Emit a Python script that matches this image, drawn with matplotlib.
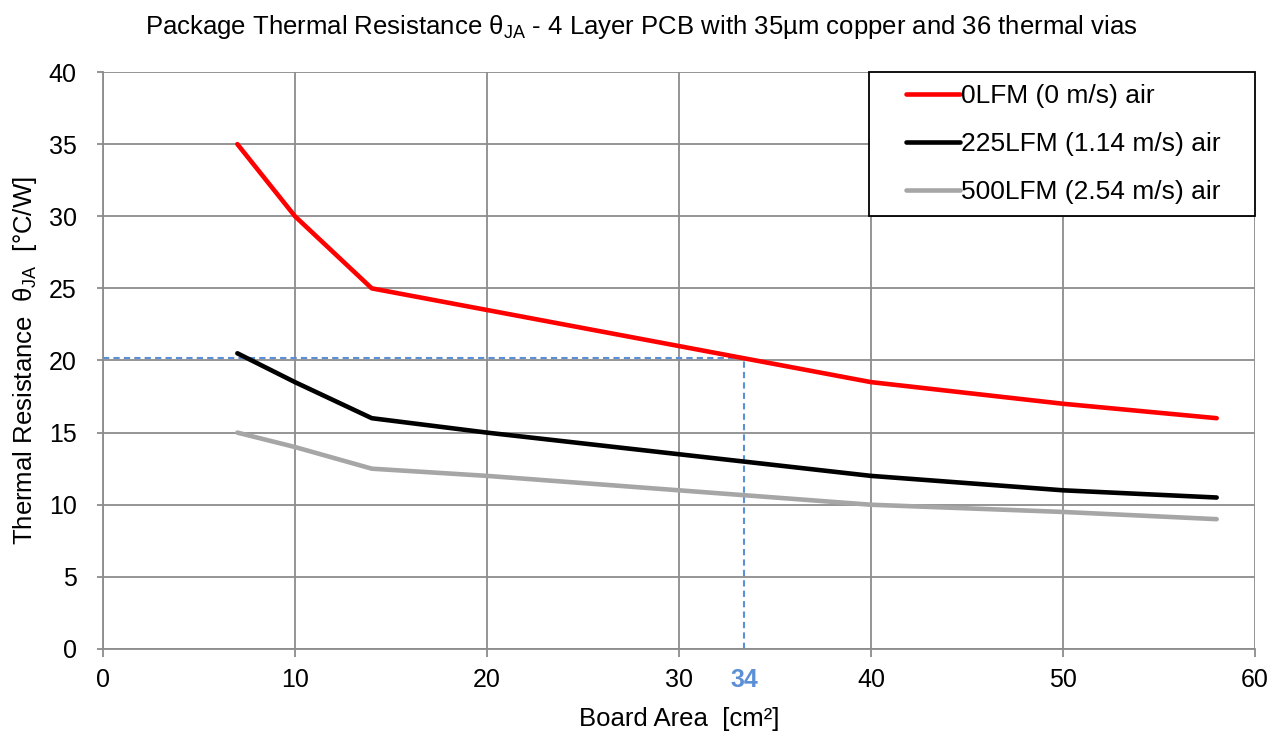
import numpy as np
import matplotlib
matplotlib.use('Agg')
import matplotlib.pyplot as plt
from matplotlib.legend_handler import HandlerLine2D

plt.rcParams['font.family'] = ['Liberation Sans', 'DejaVu Sans']
plt.rcParams['mathtext.fontset'] = 'custom'
plt.rcParams['mathtext.rm'] = 'Liberation Sans'
plt.rcParams['mathtext.it'] = 'Liberation Sans'
plt.rcParams['mathtext.default'] = 'regular'

# board area [cm^2]
area = [7, 10, 14, 20, 30, 40, 50, 58]
# theta_JA [C/W] for each airflow
r_0lfm = [35, 30, 25, 23.5, 21, 18.5, 17, 16]
r_225lfm = [20.5, 18.5, 16, 15, 13.5, 12, 11, 10.5]
r_500lfm = [15, 14, 12.5, 12, 11, 10, 9.5, 9]
labels = ['0LFM (0 m/s) air', '225LFM (1.14 m/s) air', '500LFM (2.54 m/s) air']
colors = ['#ff0000', '#000000', '#a6a6a6']

# marked operating point
mark_x = 33.4
mark_y = 20.15
mark_label = '34'
mark_color = '#5b8fd6'

fig = plt.figure(figsize=(12.82, 7.31), dpi=100)
ax = fig.add_axes([0.0803, 0.1122, 0.8987, 0.7893])

for y, lab, c in zip([r_0lfm, r_225lfm, r_500lfm], labels, colors):
    ax.plot(area, y, color=c, lw=3.3, label=lab, solid_capstyle='round', zorder=3)

# dashed guide lines to the marked point
ax.plot([0, mark_x], [mark_y, mark_y], color=mark_color, lw=1.5, ls=(0, (3, 2)), zorder=2.5)
ax.plot([mark_x, mark_x], [0, mark_y], color=mark_color, lw=1.5, ls=(0, (3, 2)), zorder=2.5)
ax.annotate(mark_label, xy=(mark_x, 0), xytext=(0, -14), textcoords='offset points',
            ha='center', va='top', fontsize=18, fontweight='bold', color=mark_color)

ax.set_xlim(0, 60)
ax.set_ylim(0, 40)
ax.set_xticks(np.arange(0, 61, 10))
ax.set_yticks(np.arange(0, 41, 5))
ax.grid(True, color='#8c8c8c', lw=1.3, zorder=1)
ax.set_axisbelow(True)
for s in ['top', 'right']:
    ax.spines[s].set_visible(False)
for s in ['left', 'bottom']:
    ax.spines[s].set_color('#8c8c8c')
    ax.spines[s].set_linewidth(1.3)
ax.tick_params(axis='x', length=5.5, width=1.3, color='#8c8c8c', pad=8, labelsize=18)
ax.tick_params(axis='y', length=4, width=1.3, color='#8c8c8c', pad=15, labelsize=18)

ax.set_xlabel('Board Area  [cm²]', fontsize=18.5, labelpad=11)
ax.set_ylabel('Thermal Resistance  θ$_{JA}$  [°C/W]', fontsize=18.5, labelpad=7)
fig.suptitle('Package Thermal Resistance θ$_{JA}$ - 4 Layer PCB with 35µm copper and 36 thermal vias',
             fontsize=18.5, y=0.963, va='center')

leg = ax.legend(loc='upper right', bbox_to_anchor=(0.665, 0, 0.335, 1), mode='expand',
                borderaxespad=0, fontsize=19, handlelength=3.0, handletextpad=0.05,
                labelspacing=0.92, borderpad=0.45, fancybox=False, framealpha=1,
                handler_map={plt.Line2D: HandlerLine2D(xpad=0.95)})
leg.get_frame().set_edgecolor('black')
leg.get_frame().set_linewidth(1.3)

fig.savefig('out.png', dpi=100)
